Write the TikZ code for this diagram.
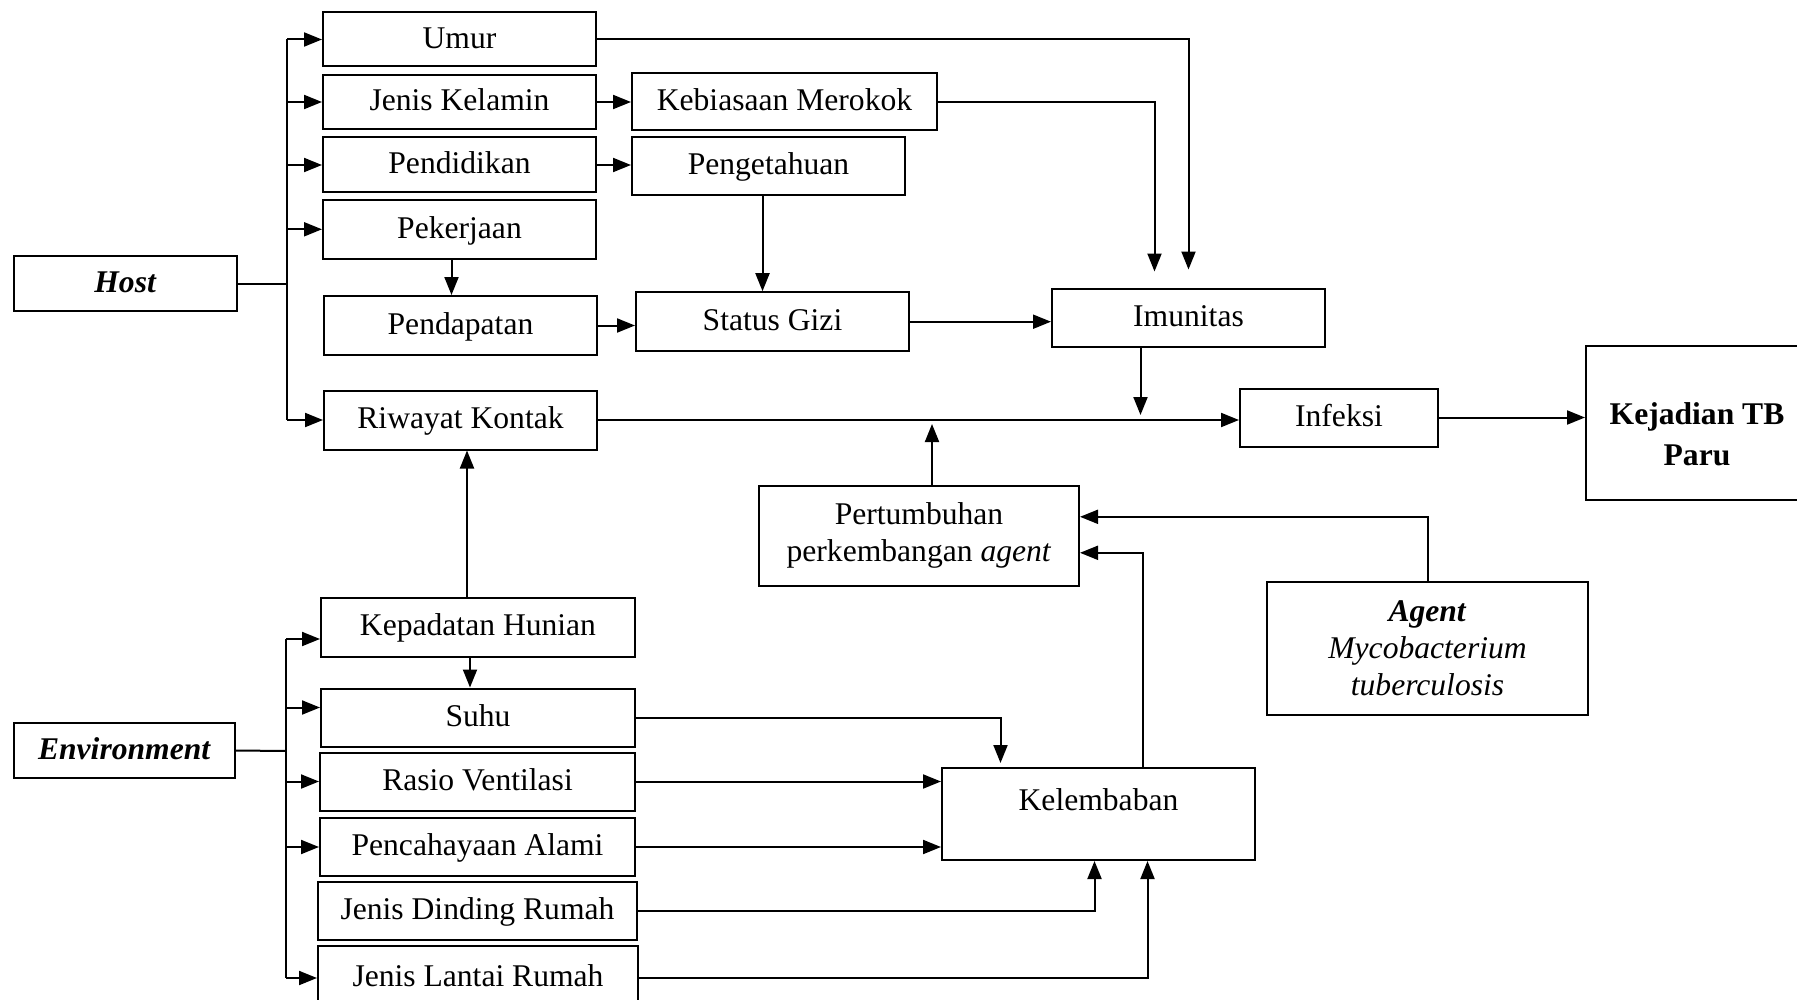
\documentclass[tikz,border=0pt]{standalone}
\usepackage{fontspec}
\setmainfont{Liberation Serif}
\usetikzlibrary{arrows.meta,calc}

\begin{document}
\begin{tikzpicture}[x=0.5pt,y=-0.5pt,
    kotak/.style 2 args={draw,line width=1pt,minimum width=#1,minimum height=#2,inner sep=1pt,align=center,font=\fontsize{15.8}{18.5}\selectfont},
    satu/.style 2 args={kotak={#1}{#2},text height=0.9em,text depth=0.02em},
    panah/.style={-{Triangle[length=9pt,width=7pt]},line width=1pt},
    garis/.style={line width=1pt}]
        \useasboundingbox (0,0) rectangle (1797,1000);
        % host
        \node[satu={111.5pt}{27.5pt}] (host) at (125.5,283.5){\textbf{\textit{Host}}};
        \node[satu={136.5pt}{27pt}] (umur) at (459.5,39.5){Umur};
        \node[satu={136.5pt}{27pt}] (jk) at (459.5,102){Jenis Kelamin};
        \node[satu={136.5pt}{27.5pt}] (pend) at (459.5,165){Pendidikan};
        \node[satu={136.5pt}{29.5pt}] (pek) at (459.5,229.3){Pekerjaan};
        \node[satu={136.5pt}{29.5pt}] (pendap) at (460.5,325.5){Pendapatan};
        \node[satu={136.5pt}{29.5pt}] (riwayat) at (460.5,420){Riwayat Kontak};
        \node[satu={152.5pt}{28.5pt}] (km) at (784.5,101.7){Kebiasaan Merokok};
        \node[satu={136.5pt}{29pt}] (penget) at (768.5,166){Pengetahuan};
        \node[satu={136.5pt}{29.5pt}] (gizi) at (772.5,321.7){Status Gizi};
        \node[satu={136.5pt}{29pt}] (imun) at (1188.5,317.5){Imunitas};
        \node[satu={99pt}{29pt}] (infeksi) at (1339,417.5){Infeksi};
        \node[kotak={111pt}{77pt}] (kejadian) at (1697,423){\textbf{\rule{0pt}{22pt}Kejadian TB}\\[2pt]\textbf{Paru}};
        % agent
        \node[kotak={160pt}{50pt}] (pert) at (919,535.8){Pertumbuhan\\perkembangan \textit{agent}};
        \node[kotak={160.5pt}{66.5pt}] (agent) at (1427.5,648.3){\textbf{\textit{Agent}}\\\textit{Mycobacterium}\\\textit{tuberculosis}};
        % environment
        \node[satu={110.5pt}{27.5pt}] (env) at (124.5,750.5){\textbf{\textit{Environment}}};
        \node[satu={157pt}{29.5pt}] (kh) at (478,627){Kepadatan Hunian};
        \node[satu={157pt}{29pt}] (suhu) at (478,717.5){Suhu};
        \node[satu={157.5pt}{29pt}] (rv) at (477.5,781.5){Rasio Ventilasi};
        \node[satu={157.5pt}{29pt}] (pa) at (477.5,847){Pencahayaan Alami};
        \node[satu={159.5pt}{29pt}] (jdr) at (477.5,911){Jenis Dinding Rumah};
        \node[satu={160pt}{32pt}] (jlr) at (478,978){Jenis Lantai Rumah};
        \node[kotak={156.5pt}{46pt},text depth=1.4em] (kel) at (1098.5,814){Kelembaban};

        \coordinate (bushost) at (287,283.5);
        \draw[garis] (host.east) -- (bushost);
        \draw[garis] (bushost |- umur.west) -- (bushost |- riwayat.west);
        \foreach \nama in {umur,jk,pend,pek,riwayat}
            \draw[panah] (bushost |- \nama.west) -- (\nama.west);
        \draw[panah] (jk.east) -- (jk.east -| km.west);
        \draw[panah] (pend.east) -- (pend.east -| penget.west);
        \draw[panah] ([xshift=-4pt]pek.south) -- ([xshift=-4pt]pek.south |- pendap.north);
        \draw[panah] (pendap.east) -- (pendap.east -| gizi.west);
        \draw[panah] ([xshift=-3pt]penget.south) -- ([xshift=-3pt]penget.south |- gizi.north);
        \draw[panah] (gizi.east) -- (gizi.east -| imun.west);
        \draw[panah,shorten >=9pt] (umur.east) -| (imun.north);
        \draw[panah,shorten >=8pt] (km.east) -| ([xshift=-17pt]imun.north);
        \draw[panah,shorten >=2.5pt] ([xshift=-24pt]imun.south) -- ([xshift=-24pt]imun.south |- riwayat.east);
        \draw[panah] (riwayat.east) -- (riwayat.east -| infeksi.west);
        \draw[panah] (infeksi.east) -- (infeksi.east -| kejadian.west);
        \draw[panah,shorten >=2pt] ([xshift=6.5pt]pert.north) -- ([xshift=6.5pt]pert.north |- riwayat.east);
        \draw[panah] (agent.north) |- ([yshift=9.5pt]pert.east);
        \draw[panah] ([xshift=22pt]kel.north) |- ([yshift=-8.5pt]pert.east);

        \coordinate (busenv) at (286,751);
        \coordinate (khin) at ([yshift=-6pt]kh.west);
        \draw[garis] (env.east) -- (busenv);
        \foreach \nama/\geser in {kh/-6pt,suhu/5pt,rv/0pt,pa/0pt,jlr/0pt}{
            \coordinate (tuju) at ([yshift=\geser]\nama.west);
            \draw[panah] (busenv |- tuju) -- (tuju);
        }
        \draw[garis] (busenv |- khin) -- (busenv |- jlr.west);
        \draw[panah] ([xshift=-4pt]kh.south) -- ([xshift=-4pt]kh.south |- suhu.north);
        \draw[panah] ([xshift=-5.5pt]kh.north) -- ([xshift=-5.5pt]kh.north |- riwayat.south);
        \draw[panah,shorten >=2pt] (suhu.east) -| ([xshift=-49pt]kel.north);
        \draw[panah] (rv.east) -- (rv.east -| kel.west);
        \draw[panah] (pa.east) -- (pa.east -| kel.west);
        \draw[panah] (jdr.east) -| ([xshift=-2pt]kel.south);
        \draw[panah] (jlr.east) -| ([xshift=24.5pt]kel.south);
    \end{tikzpicture}
\end{document}
